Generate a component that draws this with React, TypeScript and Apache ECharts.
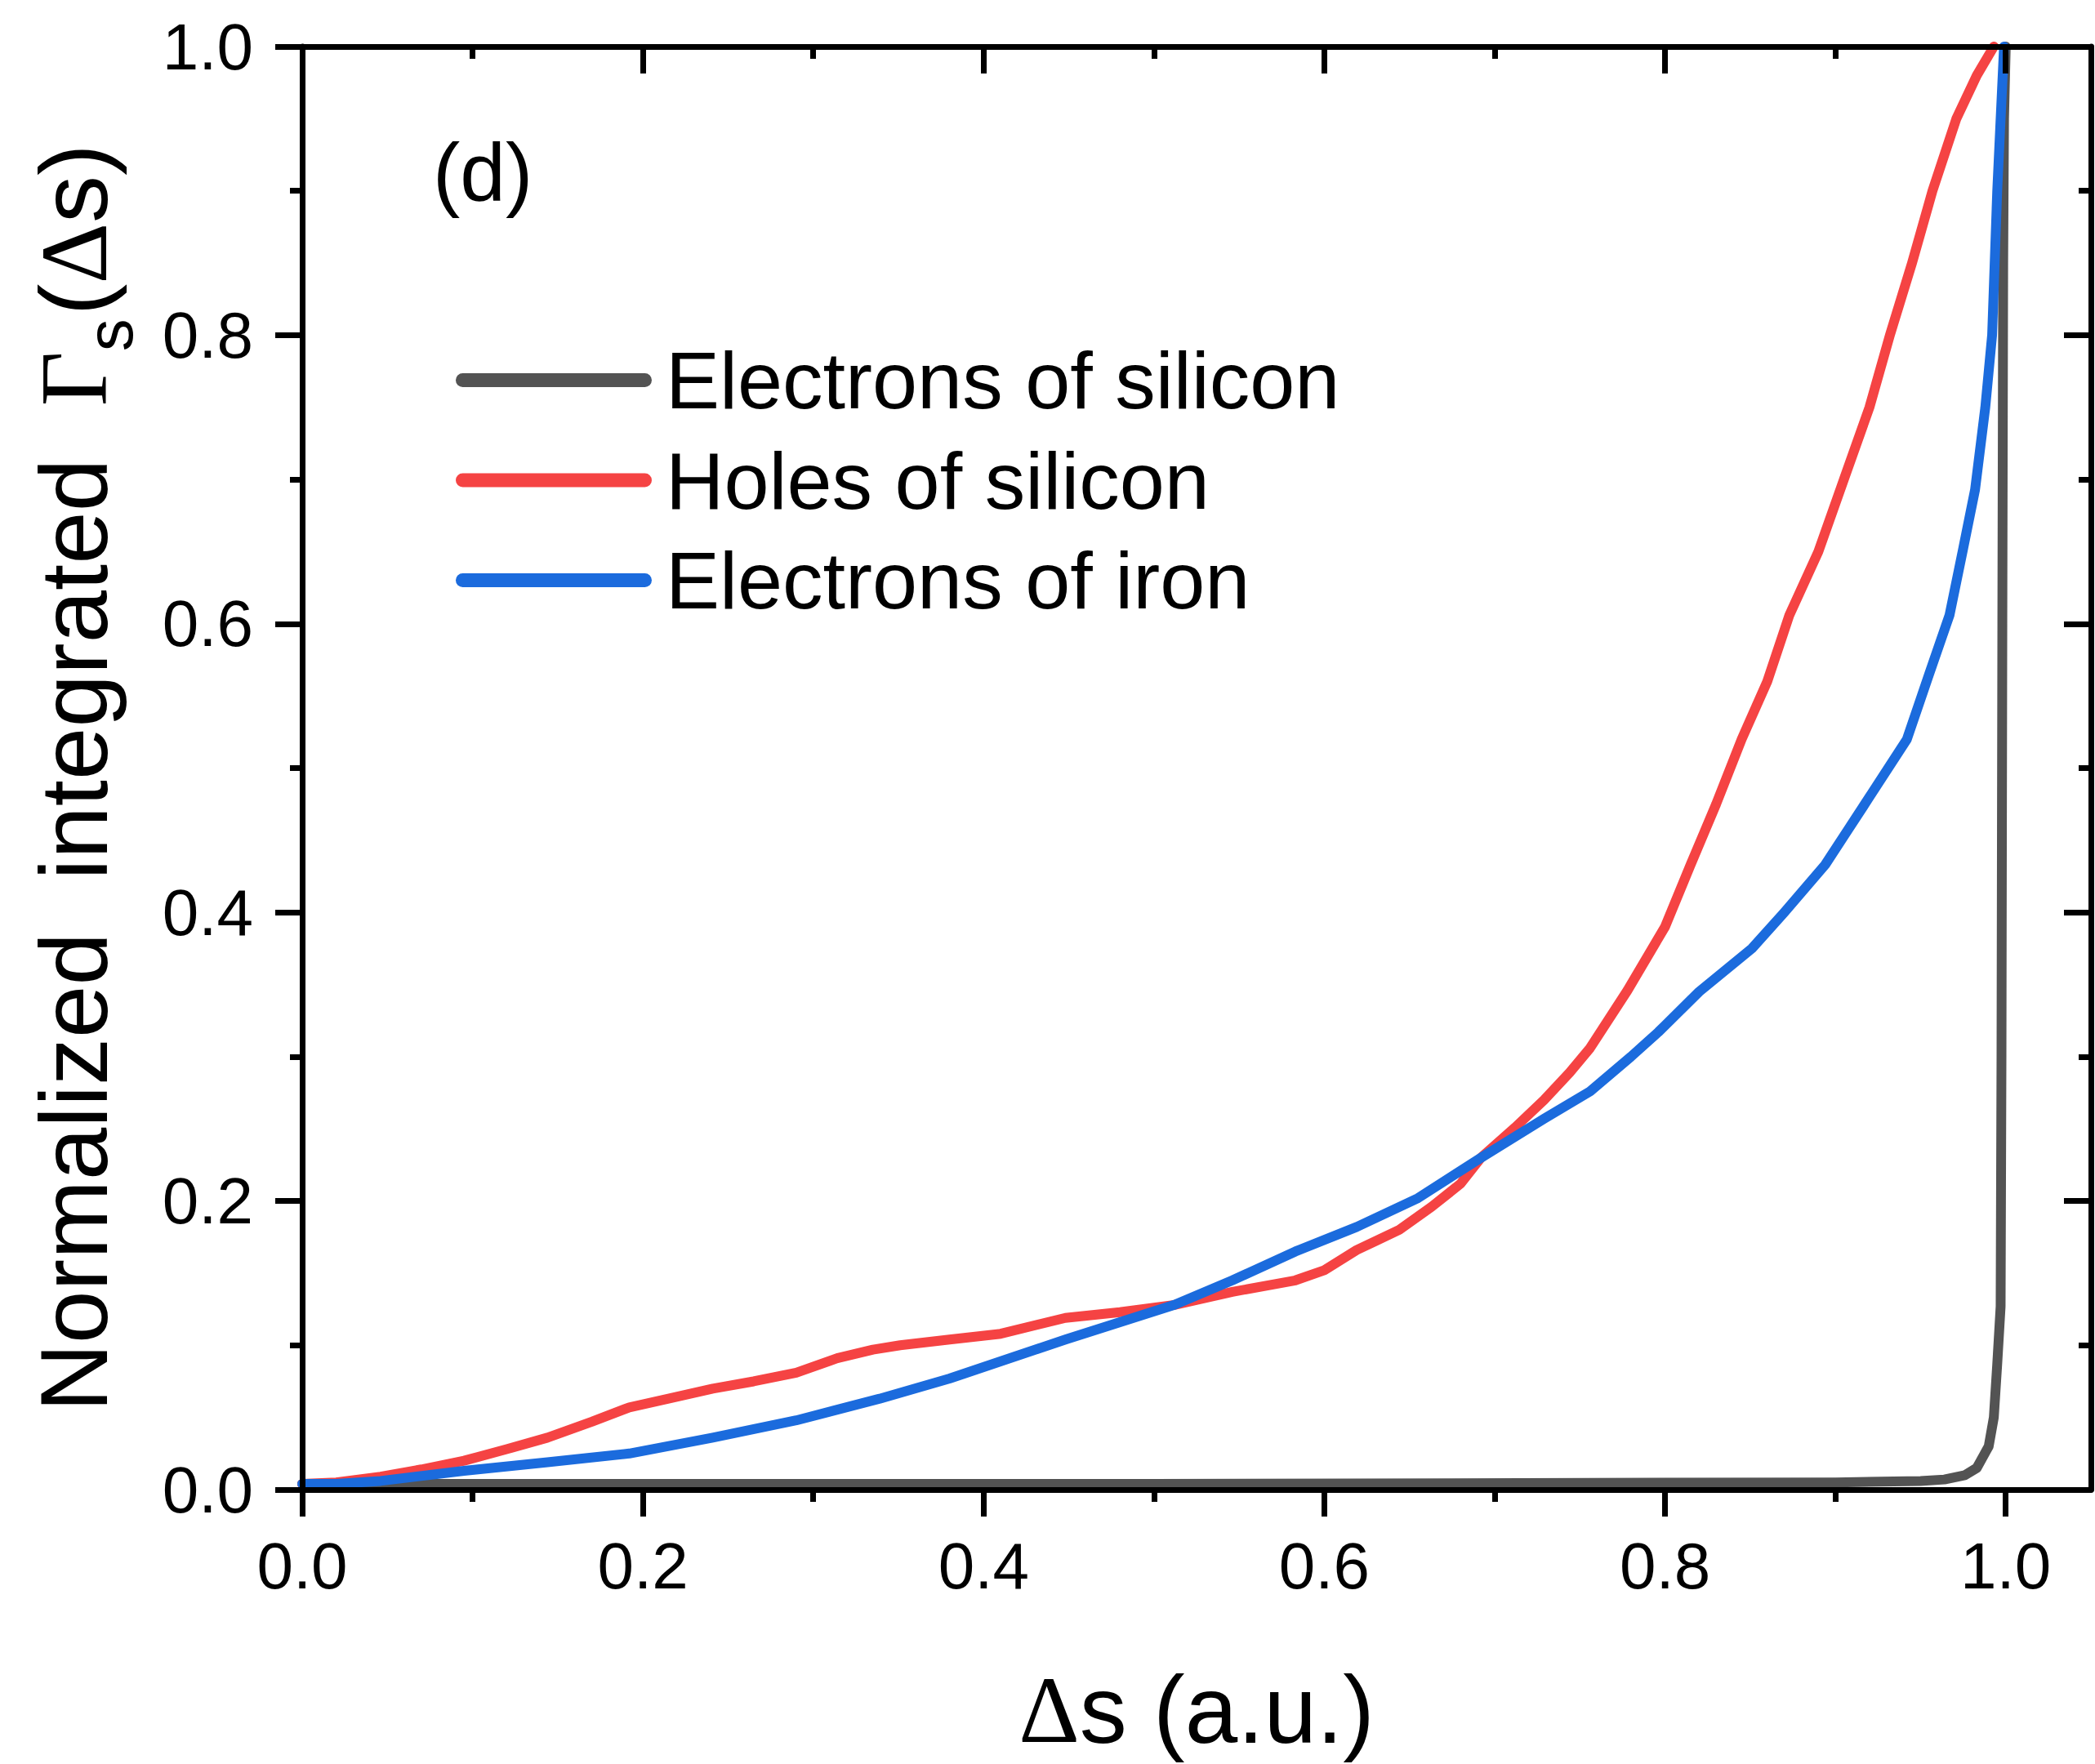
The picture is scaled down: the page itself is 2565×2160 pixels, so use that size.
import React, { useEffect, useRef } from "react";
import * as echarts from "echarts";

// ---- data ----
const seriesNames = ["Electrons of silicon", "Holes of silicon", "Electrons of iron"];
const seriesColors = ["#535353", "#F54343", "#1B6BDD"];

const electronsSiX = [0, 0.5, 0.9, 0.95, 0.964, 0.976, 0.983, 0.99, 0.993, 0.995, 0.997, 0.9975, 0.998, 0.9985, 0.999, 1.0];
const electronsSiY = [0.004, 0.004, 0.005, 0.006, 0.007, 0.01, 0.015, 0.03, 0.05, 0.087, 0.127, 0.3, 0.6, 0.85, 0.95, 1.0];

const holesSiX = [0, 0.02, 0.046, 0.07, 0.095, 0.12, 0.144, 0.17, 0.192, 0.215, 0.241, 0.265, 0.29, 0.314, 0.335, 0.351, 0.38, 0.41, 0.448, 0.48, 0.512, 0.546, 0.583, 0.6, 0.619, 0.644, 0.663, 0.68, 0.692, 0.712, 0.729, 0.744, 0.756, 0.778, 0.8, 0.815, 0.83, 0.845, 0.86, 0.873, 0.89, 0.905, 0.92, 0.932, 0.945, 0.957, 0.971, 0.983, 0.993];
const holesSiY = [0.004, 0.005, 0.009, 0.014, 0.02, 0.028, 0.036, 0.047, 0.057, 0.063, 0.07, 0.075, 0.081, 0.091, 0.097, 0.1, 0.104, 0.108, 0.119, 0.123, 0.128, 0.137, 0.145, 0.152, 0.166, 0.18, 0.196, 0.212, 0.23, 0.251, 0.27, 0.289, 0.306, 0.346, 0.39, 0.433, 0.475, 0.52, 0.56, 0.606, 0.65, 0.7, 0.75, 0.8, 0.85, 0.9, 0.95, 0.98, 1.0];

const electronsFeX = [0, 0.02, 0.046, 0.095, 0.144, 0.192, 0.241, 0.29, 0.339, 0.38, 0.448, 0.512, 0.546, 0.583, 0.619, 0.655, 0.692, 0.729, 0.756, 0.78, 0.796, 0.82, 0.851, 0.87, 0.894, 0.92, 0.942, 0.955, 0.967, 0.975, 0.982, 0.988, 0.992, 0.995, 0.997, 0.999];
const electronsFeY = [0.004, 0.004, 0.006, 0.013, 0.019, 0.025, 0.036, 0.048, 0.063, 0.077, 0.104, 0.128, 0.145, 0.165, 0.182, 0.202, 0.23, 0.257, 0.276, 0.3, 0.317, 0.345, 0.375, 0.4, 0.433, 0.48, 0.52, 0.565, 0.606, 0.652, 0.693, 0.75, 0.8, 0.9, 0.95, 1.0];

const xTickValues = [0, 0.2, 0.4, 0.6, 0.8, 1.0];
const X_MIN = 0;
const X_MAX = 1.05;
const Y_MIN = 0;
const Y_MAX = 1.0;
const MAJOR = 0.2;

const SANS = "Liberation Sans";
const SERIF = "Liberation Serif";

function zip(xs: number[], ys: number[]) {
  return xs.map((x, i) => [x, ys[i]]);
}

const seriesData = [
  zip(electronsSiX, electronsSiY),
  zip(holesSiX, holesSiY),
  zip(electronsFeX, electronsFeY),
];

function axisBase(inside: boolean) {
  return {
    type: "value" as const,
    axisLine: { show: true, onZero: false, lineStyle: { color: "#000", width: 7 } },
    axisTick: { show: true, inside, length: 33, lineStyle: { color: "#000", width: 7 } },
    minorTick: { show: true, splitNumber: 2, length: 15, lineStyle: { color: "#000", width: 7 } },
    splitLine: { show: false },
    minorSplitLine: { show: false },
    z: 5,
  };
}

export default function App() {
  const ref = useRef<HTMLDivElement>(null);
  useEffect(() => {
    if (!ref.current) return;
    const chart = echarts.init(ref.current, undefined, { renderer: "svg" });
    const fmt = (v: number) => v.toFixed(1);
    const option: any = {
      animation: false,
      backgroundColor: "#fff",
      grid: { left: 366, right: 5, top: 57, bottom: 336, containLabel: false },
      xAxis: [
        {
          ...axisBase(false),
          position: "bottom",
          min: X_MIN,
          max: X_MAX,
          interval: MAJOR,
          axisTick: { ...axisBase(false).axisTick, customValues: xTickValues },
          axisLabel: {
            customValues: xTickValues,
            margin: 53,
            fontSize: 80,
            fontFamily: SANS,
            color: "#000",
            formatter: fmt,
          },
          name: "{d|Δ}{t|s (a.u.)}",
          nameLocation: "middle",
          nameGap: 212,
          nameTextStyle: {
            rich: {
              d: { fontFamily: SERIF, fontSize: 116, lineHeight: 116, color: "#000" },
              t: { fontFamily: SANS, fontSize: 116, lineHeight: 116, color: "#000" },
            },
          },
        },
        {
          ...axisBase(true),
          position: "top",
          min: X_MIN,
          max: X_MAX,
          interval: MAJOR,
          axisTick: { ...axisBase(true).axisTick, customValues: xTickValues },
          axisLabel: { show: false },
        },
      ],
      yAxis: [
        {
          ...axisBase(false),
          position: "left",
          min: Y_MIN,
          max: Y_MAX,
          interval: MAJOR,
          axisLabel: {
            margin: 60,
            fontSize: 80,
            fontFamily: SANS,
            color: "#000",
            formatter: fmt,
          },
          name: "{n|Normalized  integrated  }{g|Γ}{s|s}{n|(}{g|Δ}{e|s)}",
          nameLocation: "middle",
          nameGap: 209,
          nameTextStyle: {
            rich: {
              n: { fontFamily: SANS, fontSize: 116, lineHeight: 140, color: "#000" },
              e: { fontFamily: SANS, fontSize: 116, lineHeight: 140, color: "#000", padding: [0, 24, 0, 0] },
              g: { fontFamily: SERIF, fontSize: 116, lineHeight: 140, color: "#000" },
              s: { fontFamily: SANS, fontSize: 80, lineHeight: 140, color: "#000", padding: [86, 4, 0, 0] },
            },
          },
        },
        {
          ...axisBase(true),
          position: "right",
          min: Y_MIN,
          max: Y_MAX,
          interval: MAJOR,
          axisLabel: { show: false },
        },
      ],
      legend: {
        orient: "vertical",
        left: 553,
        top: 411,
        itemWidth: 240,
        itemHeight: 17,
        itemGap: 23.5,
        icon: "path://M8.5,0H231.5A8.5,8.5,0,0,1,231.5,17H8.5A8.5,8.5,0,0,1,8.5,0Z",
        itemStyle: { borderWidth: 0 },
        selectedMode: false,
        textStyle: { fontSize: 99, fontFamily: SANS, color: "#000", padding: [0, 0, 0, 12] },
        data: seriesNames,
      },
      graphic: [
        {
          type: "text",
          left: 530,
          top: 161,
          style: { text: "(d)", font: `100px "${SANS}"`, fill: "#000" },
        },
      ],
      series: seriesNames.map((name, i) => ({
        name,
        type: "line",
        xAxisIndex: 0,
        yAxisIndex: 0,
        data: seriesData[i],
        showSymbol: false,
        symbol: "none",
        smooth: false,
        clip: true,
        itemStyle: { color: seriesColors[i] },
        lineStyle: { color: seriesColors[i], width: 12, join: "round", cap: "round" },
        z: 2,
      })),
    };
    chart.setOption(option);
    return () => chart.dispose();
  }, []);
  return (
    <div
      ref={ref}
      style={{ position: "absolute", left: 0, top: 0, width: 2565, height: 2160, background: "#fff" }}
    />
  );
}
